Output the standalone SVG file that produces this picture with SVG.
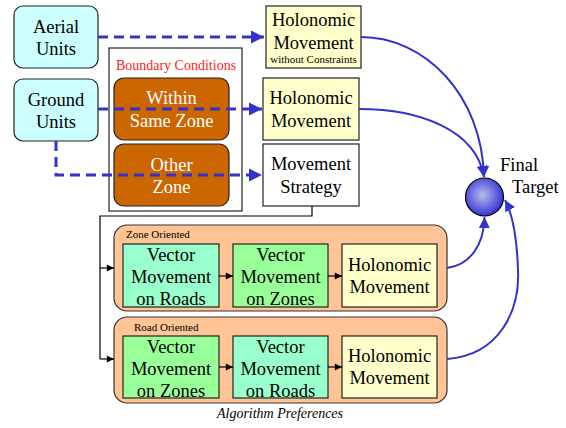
<svg xmlns="http://www.w3.org/2000/svg" width="566" height="428" viewBox="0 0 566 428" font-family="Liberation Serif, Times New Roman, serif">
<style>
text{font-family:'Liberation Serif',serif;fill:#000}
.t{font-size:18.5px;text-anchor:middle}
.unit{fill:#ccffff;stroke:#222;stroke-width:1.2}
.bc{fill:#cc6600;stroke:#222;stroke-width:1.2}
.wt{fill:#fff}
.holo{fill:#ffffcc;stroke:#222;stroke-width:1.2}
.plain{fill:#fff;stroke:#222;stroke-width:1.2}
.panel{fill:#ffc596;stroke:#333;stroke-width:1.2}
.aqua{fill:#99ffcc;stroke:#222;stroke-width:1.2}
.green{fill:#99ff99;stroke:#222;stroke-width:1.2}
.dash{fill:none;stroke:#3333cc;stroke-width:3;stroke-dasharray:10,6}
.curve{fill:none;stroke:#3333cc;stroke-width:2}
.blk{fill:none;stroke:#000;stroke-width:1.2}
</style>
<defs>
<marker id="ab" viewBox="0 0 10 10" refX="10" refY="5" markerWidth="4.5" markerHeight="4.5" orient="auto" markerUnits="strokeWidth"><path d="M0,0L10,5L0,10z" fill="#3333cc"/></marker>
<marker id="ac" viewBox="0 0 10 10" refX="10" refY="5" markerWidth="5.5" markerHeight="6" orient="auto" markerUnits="strokeWidth"><path d="M0,0L10,5L0,10z" fill="#3333cc"/></marker>
<marker id="ak" viewBox="0 0 10 10" refX="10" refY="5" markerWidth="7" markerHeight="6" orient="auto" markerUnits="strokeWidth"><path d="M0,0L10,5L0,10z" fill="#000"/></marker>
<radialGradient id="g" cx="0.45" cy="0.45" r="0.55"><stop offset="0" stop-color="#b8bcf0"/><stop offset="1" stop-color="#3535d0"/></radialGradient>
</defs>
<g id="boundary"><rect x="109" y="48" width="133" height="163" fill="#fff" stroke="#222" stroke-width="1.2"/><text x="176" y="70" font-family="Liberation Serif, serif" style="font-size:14px;text-anchor:middle;fill:#ff2222">Boundary Conditions</text></g>
<g id="aerial"><rect class="unit" x="14" y="6" width="84" height="62" rx="9"/><text class="t" x="56" y="32.5">Aerial</text><text class="t" x="56" y="54.5">Units</text></g>
<g id="ground"><rect class="unit" x="14" y="79" width="84" height="62" rx="9"/><text class="t" x="56" y="105.5">Ground</text><text class="t" x="56" y="127.5">Units</text></g>
<g id="within"><rect class="bc" x="114" y="78" width="115" height="62" rx="10"/><text class="t wt" x="171.5" y="104">Within</text><text class="t wt" x="171.5" y="127">Same Zone</text></g>
<g id="other"><rect class="bc" x="114" y="144" width="115" height="62" rx="10"/><text class="t wt" x="171.5" y="170.5">Other</text><text class="t wt" x="171.5" y="192.5">Zone</text></g>
<g id="holo1"><rect class="holo" x="266" y="6" width="95" height="62"/><text class="t" x="313.5" y="26">Holonomic</text><text class="t" x="313.5" y="49">Movement</text><text x="313.5" y="63" style="font-size:11px;text-anchor:middle">without Constraints</text></g>
<g id="holo2"><rect class="holo" x="263" y="78" width="96" height="62"/><text class="t" x="311" y="104">Holonomic</text><text class="t" x="311" y="127">Movement</text></g>
<g id="strategy"><rect class="plain" x="263" y="144" width="96" height="62"/><text class="t" x="311" y="170">Movement</text><text class="t" x="311" y="193">Strategy</text></g>
<g id="target"><circle cx="484.5" cy="197" r="19" fill="url(#g)" stroke="#000" stroke-width="1.2"/><text x="500" y="171" style="font-size:18.5px">Final</text><text x="512" y="193" style="font-size:18.5px">Target</text></g>
<g id="zonePanel"><rect class="panel" x="114" y="225" width="333" height="86" rx="13"/><text x="126" y="238" style="font-size:11px">Zone Oriented</text></g>
<g id="z1"><rect class="aqua" x="123" y="244" width="96" height="63"/><text class="t" x="171" y="261">Vector</text><text class="t" x="171" y="283">Movement</text><text class="t" x="171" y="305">on Roads</text></g>
<g id="z2"><rect class="green" x="233" y="244" width="95" height="63"/><text class="t" x="280.5" y="261">Vector</text><text class="t" x="280.5" y="283">Movement</text><text class="t" x="280.5" y="305">on Zones</text></g>
<g id="z3"><rect class="holo" x="342" y="244" width="95" height="63"/><text class="t" x="389.5" y="271">Holonomic</text><text class="t" x="389.5" y="293">Movement</text></g>
<g id="roadPanel"><rect class="panel" x="114" y="317" width="333" height="86" rx="13"/><text x="134" y="331" style="font-size:11px">Road Oriented</text></g>
<g id="r1"><rect class="green" x="123" y="336" width="96" height="62"/><text class="t" x="171" y="353">Vector</text><text class="t" x="171" y="375">Movement</text><text class="t" x="171" y="397">on Zones</text></g>
<g id="r2"><rect class="aqua" x="233" y="336" width="95" height="62"/><text class="t" x="280.5" y="353">Vector</text><text class="t" x="280.5" y="375">Movement</text><text class="t" x="280.5" y="397">on Roads</text></g>
<g id="r3"><rect class="holo" x="342" y="336" width="95" height="62"/><text class="t" x="389.5" y="362">Holonomic</text><text class="t" x="389.5" y="384">Movement</text></g>
<text x="280" y="418" style="font-size:14px;font-style:italic;text-anchor:middle">Algorithm Preferences</text>
<g id="connectors">
<path class="dash" d="M98,37H264" marker-end="url(#ab)"/>
<path class="dash" d="M98,109H262" marker-end="url(#ab)"/>
<path class="dash" d="M56,141V175H262" marker-end="url(#ab)"/>
<path class="blk" d="M312,206V216H100V359"/>
<path class="blk" d="M100,268H114" marker-end="url(#ak)"/>
<path class="blk" d="M100,359H114" marker-end="url(#ak)"/>
<path class="blk" d="M219,276H233" marker-end="url(#ak)"/>
<path class="blk" d="M328,276H342" marker-end="url(#ak)"/>
<path class="blk" d="M219,367H233" marker-end="url(#ak)"/>
<path class="blk" d="M328,367H342" marker-end="url(#ak)"/>
<path class="curve" d="M361,37C425,37 482,95 484,177" marker-end="url(#ac)"/>
<path class="curve" d="M359,109C420,109 476,130 484,177" marker-end="url(#ac)"/>
<path class="curve" d="M447,268C470,265 484,245 484.5,217" marker-end="url(#ac)"/>
<path class="curve" d="M447,359C500,355 520,310 518,270C517,240 513,215 505,200" marker-end="url(#ac)"/>
</g>
</svg>
